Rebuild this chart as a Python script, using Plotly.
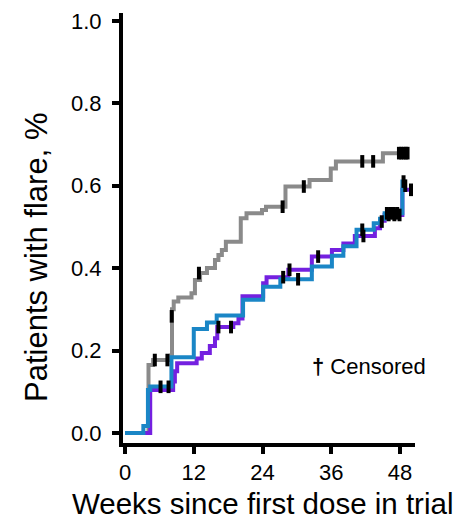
import plotly.graph_objects as go

# Kaplan-Meier style cumulative incidence of flare, three dosing groups
grey_t = [0, 4.1, 4.9, 8.0, 8.2, 8.5, 9.3, 11.6, 12.2, 13.1, 14.3, 15.7, 16.3, 16.9, 17.6,
          20.2, 21.2, 23.9, 24.6, 28.0, 32.2, 35.9, 36.8, 45.0, 49.4]
grey_p = [0, 0.165, 0.177, 0.188, 0.300, 0.319, 0.329, 0.339, 0.371, 0.388, 0.400, 0.420, 0.432,
          0.444, 0.464, 0.521, 0.533, 0.541, 0.549, 0.598, 0.614, 0.642, 0.659, 0.679, 0.679]
grey_cens_t = [5.2, 7.4, 8.15, 12.9, 27.5, 31.2, 41.4, 43.3, 47.8, 48.2, 48.6, 49.0, 49.3]
grey_cens_p = [0.177, 0.177, 0.283, 0.388, 0.549, 0.598, 0.659, 0.659, 0.679, 0.679, 0.679, 0.679, 0.679]

blue_t = [0, 3.2, 4.0, 4.4, 8.1, 12.0, 14.3, 16.0, 20.6, 24.1, 27.1, 32.6, 36.1, 38.1, 40.4,
          43.4, 44.5, 45.3, 48.4, 48.9]
blue_p = [0, 0.017, 0.104, 0.113, 0.184, 0.252, 0.268, 0.285, 0.323, 0.355, 0.373, 0.404, 0.430,
          0.453, 0.493, 0.509, 0.520, 0.533, 0.610, 0.610]
blue_cens_t = [6.2, 7.6, 30.2, 41.4, 44.8, 45.7, 46.3, 46.9, 47.5, 48.6, 48.9]
blue_cens_p = [0.112, 0.112, 0.373, 0.493, 0.513, 0.533, 0.533, 0.533, 0.533, 0.610, 0.600]

purple_t = [0, 4.4, 8.4, 8.7, 9.1, 12.5, 13.4, 14.8, 15.7, 16.1, 18.9, 19.8, 20.5, 24.1, 24.7,
            28.5, 32.6, 36.1, 38.1, 40.1, 43.6, 44.5, 45.3, 48.4, 50.0]
purple_p = [0, 0.104, 0.125, 0.150, 0.169, 0.181, 0.194, 0.211, 0.230, 0.257, 0.266, 0.278,
            0.332, 0.363, 0.378, 0.396, 0.428, 0.444, 0.460, 0.478, 0.497, 0.515, 0.529, 0.590, 0.590]
purple_cens_t = [16.3, 18.5, 27.6, 28.7, 33.7, 41.6, 46.0, 47.0, 47.9, 49.9]
purple_cens_p = [0.257, 0.257, 0.378, 0.396, 0.428, 0.478, 0.529, 0.529, 0.529, 0.590]

x_ticks = [0, 12, 24, 36, 48]
y_ticks = [0.0, 0.2, 0.4, 0.6, 0.8, 1.0]
y_tick_text = ["0.0", "0.2", "0.4", "0.6", "0.8", "1.0"]

GREY = "#8a8a8a"
BLUE = "#1a86c6"
PURPLE = "#7420e0"

# plot-area box in pixels
L, R, T, B = 123, 415, 13, 443
W_PX, H_PX = R - L, B - T


def paper_x(px):
    return (px - L) / W_PX


def paper_y(py):
    return (B - py) / H_PX


fig = go.Figure()
for t, p, c in [(grey_t, grey_p, GREY), (purple_t, purple_p, PURPLE), (blue_t, blue_p, BLUE)]:
    fig.add_trace(go.Scatter(x=t, y=p, mode="lines", line=dict(color=c, width=4, shape="hv"),
                             showlegend=False, hoverinfo="skip"))

# censoring ticks
for t, p in [(grey_cens_t, grey_cens_p), (purple_cens_t, purple_cens_p), (blue_cens_t, blue_cens_p)]:
    fig.add_trace(go.Scatter(x=t, y=p, mode="markers",
                             marker=dict(symbol="line-ns-open", size=9, color="black",
                                         line=dict(color="black", width=4)),
                             showlegend=False, hoverinfo="skip"))

font = "Liberation Sans, Arial, sans-serif"
fig.add_annotation(x=paper_x(428), y=paper_y(366), xref="paper", yref="paper",
                   xanchor="right", yanchor="middle",
                   text="<b>†</b> Censored", showarrow=False,
                   font=dict(family=font, size=22, color="black"))
fig.add_annotation(x=paper_x(36), y=paper_y(257), xref="paper", yref="paper",
                   xanchor="center", yanchor="middle", showarrow=False,
                   text="Patients with flare, %", textangle=-90,
                   font=dict(family=font, size=31, color="black"))
fig.add_annotation(x=paper_x(262), y=paper_y(503), xref="paper", yref="paper",
                   xanchor="center", yanchor="middle", showarrow=False,
                   text="Weeks since first dose in trial",
                   font=dict(family=font, size=29.5, color="black"))

axis_common = dict(showgrid=False, zeroline=False, showline=True, linecolor="black", linewidth=4,
                   ticks="outside", ticklen=7, tickwidth=3.5, tickcolor="black",
                   tickfont=dict(family=font, size=22, color="black"))

fig.update_xaxes(range=[-0.35, 50.6], tickvals=x_ticks, **axis_common)
fig.update_yaxes(range=[-0.0243, 1.019], tickvals=y_ticks, ticktext=y_tick_text,
                 ticklabelstandoff=6, **axis_common)

fig.update_layout(width=456, height=520,
                  margin=dict(l=L, r=456 - R, t=T, b=520 - B, autoexpand=False),
                  plot_bgcolor="white", paper_bgcolor="white")

fig.write_html("out.html")
